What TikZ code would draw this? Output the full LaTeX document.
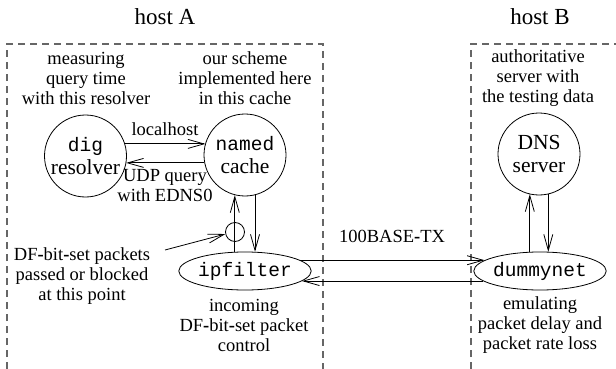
\documentclass[tikz,border=0pt]{standalone}
\usepackage{fontspec}
\setmainfont{Liberation Serif}
\setmonofont{Liberation Mono}
\usetikzlibrary{shapes.geometric,arrows.meta,calc}
\newcommand{\progname}[1]{{\fontsize{19.5}{23}\selectfont\ttfamily #1}}
\begin{document}
\begin{tikzpicture}[x=1pt,y=-1pt,
  txt/.style={align=center,inner sep=0pt,font=\fontsize{18.5}{20}\selectfont},
  title/.style={inner sep=0pt,font=\fontsize{23}{26}\selectfont},
  proc/.style={circle,draw,line width=0.8pt,minimum size=82pt,inner sep=0pt,
    align=center,font=\fontsize{21.5}{23}\selectfont},
  filt/.style={ellipse,draw,line width=0.8pt,minimum width=120pt,minimum height=38pt,
    inner sep=0pt,font=\fontsize{19.5}{24}\selectfont\ttfamily},
  gatec/.style={circle,draw,line width=0.8pt,minimum size=19pt,inner sep=0pt},
  hostline/.style={draw=black!60,line width=1.2pt,dash pattern=on 7pt off 5pt},
  arr/.style={line width=0.8pt,-{Straight Barb[length=16pt,width=9pt]}}]
\useasboundingbox (0,0) rectangle (616,369);

% machine boundaries
\node[title] (hostA) at (165,17) {host A};
\node[title] (hostB) at (540,17) {host B};
\draw[hostline] (7,369) -- (7,44) -- (323,44) -- (323,369);
\draw[hostline] (471,369) -- (471,44) -- (616,44);

% processes
\node[proc] (resolver) at (85.5,156) {\progname{dig}\\resolver};
\node[proc] (named) at (245,155) {\progname{named}\\cache};
\node[proc] (dns) at (539,154) {DNS\\server};
\node[filt] (ipfilter) at (245,271) {ipfilter};
\node[filt] (dummynet) at (540,271) {dummynet};
\node[gatec] (gate) at (235,232) {};

% annotations
\node[txt] (n1) at (86,78) {measuring\\query time\\with this resolver};
\node[txt] (n2) at (245,78) {our scheme\\implemented here\\in this cache};
\node[txt] (n3) at (538,78) {authoritative\\server with\\the testing data};
\node[txt] (n4) at (82,276) {DF\textbf{-}bit\textbf{-}set packets\\passed or blocked\\at this point};
\node[txt] (n5) at (244,325) {incoming\\DF\textbf{-}bit\textbf{-}set packet\\control};
\node[txt] (n6) at (540,325) {emulating\\packet delay and\\packet rate loss};
\node[txt] (l1) at (165,129) {localhost};
\node[txt] (l2) at (165,186) {UDP query\\with EDNS0};
\node[txt] (l3) at (392,236) {100BASE\textbf{-}TX};

% resolver <-> cache
\draw[arr] (resolver.17) -- (resolver.17 -| named.163);
\draw[arr] (named.191) -- (named.191 -| resolver.-11);

% cache <-> ipfilter
\draw[arr] (ipfilter.118) -- (ipfilter.118 |- named.256);
\draw[arr] (named.284) -- (named.284 |- ipfilter.62);

% pointer to the filtering point
\coordinate (dfstart) at (165,250);
\draw[arr] (dfstart) -- (gate.192);

% link between the hosts
\draw[arr] (ipfilter.11) -- (ipfilter.11 -| dummynet.169);
\draw[arr] (dummynet.190) -- (dummynet.190 -| ipfilter.-10);

% dummynet <-> DNS server
\draw[arr] (dummynet.118) -- (dummynet.118 |- dns.256);
\draw[arr] (dns.283) -- (dns.283 |- dummynet.62);
\end{tikzpicture}
\end{document}
